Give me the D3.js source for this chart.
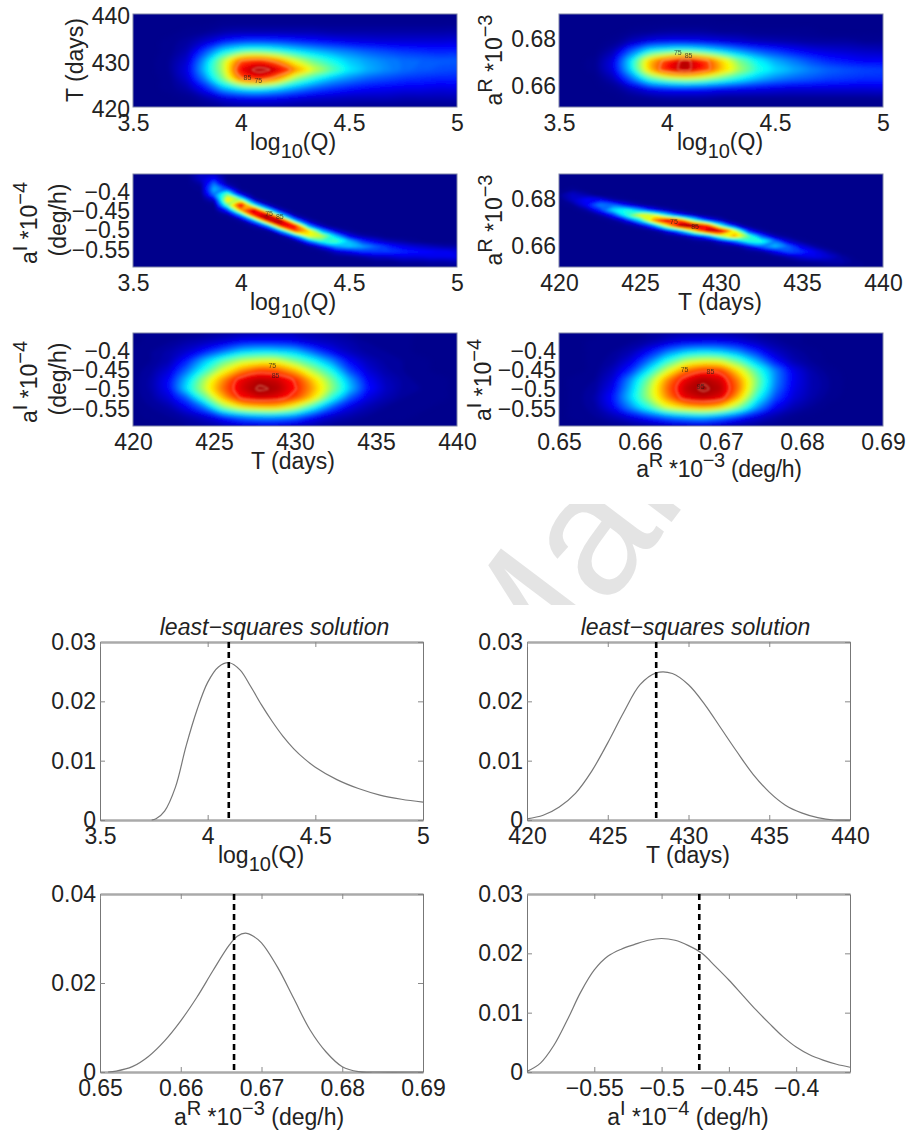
<!DOCTYPE html>
<html>
<head>
<meta charset="utf-8">
<script src="https://d3js.org/d3.v7.min.js"></script>
<style>
  body { margin: 0; background: #fff; }
  text { font-family: "Liberation Sans", Arial, sans-serif; fill: #222; }
</style>
</head>
<body>
<svg id="chart" width="907" height="1136"></svg>
<script>
// axis ranges and ticks
const qDomain = [3.5, 5];
const tDomain = [420, 440];
const arDomain = [0.65, 0.69];
const aiDomain = [-0.6, -0.36];
const qTicks = [3.5, 4, 4.5, 5];
const tTicks = [420, 425, 430, 435, 440];
const tTicksShort = [420, 430, 440];
const arTicks = [0.65, 0.66, 0.67, 0.68, 0.69];
const arTicksShort = [0.66, 0.68];
const aiTicks = [-0.55, -0.5, -0.45, -0.4];

// density grids, 0-100 on the jet scale, top row first
const gridTQ = [
  [0,0,0,0,0,0,0,0,0,0,0,0,0,0,0,0,0,0,0],
  [0,0,0,0,0,1,1,1,1,1,1,1,1,1,1,1,1,1,1],
  [0,0,0,1,2,4,5,5,5,5,5,4,4,4,4,4,4,4,4],
  [0,0,1,3,8,15,19,20,19,17,15,13,11,10,9,9,9,9,9],
  [0,0,1,5,20,36,45,47,43,37,32,28,25,22,20,18,17,16,16],
  [0,0,2,8,30,55,80,85,76,60,48,40,33,29,26,24,23,22,22],
  [0,0,2,10,33,56,90,98,93,76,60,48,37,31,27,24,22,21,20],
  [0,0,1,8,26,50,78,86,74,52,40,31,26,22,20,18,17,16,16],
  [0,0,1,4,14,30,38,40,35,28,22,18,15,13,12,11,11,10,10],
  [0,0,0,1,4,9,12,13,12,10,8,7,6,6,6,5,5,5,5],
  [0,0,0,0,1,2,3,3,3,2,2,2,2,1,1,1,1,1,1]
];
const gridArQ = [
  [0,0,0,0,0,0,0,0,0,0,0,0,0,0,0,0,0,0,0],
  [0,0,0,0,0,0,0,0,0,0,0,0,0,0,0,0,0,0,0],
  [0,0,0,0,1,2,3,3,3,2,2,1,1,1,1,0,0,0,0],
  [0,0,0,1,6,11,13,13,12,10,8,6,5,4,3,3,3,2,2],
  [0,0,0,5,22,38,44,46,42,35,28,22,18,14,11,9,8,7,6],
  [0,0,1,10,36,68,84,96,85,68,50,38,30,25,20,16,14,12,12],
  [0,0,1,10,35,68,88,96,86,70,55,42,35,30,26,23,21,20,19],
  [0,0,0,5,22,42,52,56,53,46,38,31,26,23,21,19,18,17,17],
  [0,0,0,1,6,12,15,16,15,13,12,11,10,9,9,9,9,9,9],
  [0,0,0,0,1,2,3,3,3,2,2,2,2,2,2,2,2,2,2],
  [0,0,0,0,0,0,0,0,0,0,0,0,0,0,0,0,0,0,0]
];
const gridAiQ = [
  [0,0,0,0,0,7,6,0,0,0,0,0,0,0,0,0,0,0,0,0,0,0,0,0,0],
  [0,0,0,0,0,7,14,1,0,0,0,0,0,0,0,0,0,0,0,0,0,0,0,0,0],
  [0,0,0,0,0,3,25,4,0,0,0,0,0,0,0,0,0,0,0,0,0,0,0,0,0],
  [0,0,0,0,0,1,31,20,1,0,0,0,0,0,0,0,0,0,0,0,0,0,0,0,0],
  [0,0,0,0,0,0,24,50,12,0,0,0,0,0,0,0,0,0,0,0,0,0,0,0,0],
  [0,0,0,0,0,0,8,66,50,6,0,0,0,0,0,0,0,0,0,0,0,0,0,0,0],
  [0,0,0,0,0,0,1,48,90,38,6,0,0,0,0,0,0,0,0,0,0,0,0,0,0],
  [0,0,0,0,0,0,0,17,72,94,40,6,0,0,0,0,0,0,0,0,0,0,0,0,0],
  [0,0,0,0,0,0,0,2,26,88,99,36,4,0,0,0,0,0,0,0,0,0,0,0,0],
  [0,0,0,0,0,0,0,0,3,30,92,97,30,5,0,0,0,0,0,0,0,0,0,0,0],
  [0,0,0,0,0,0,0,0,0,4,28,90,88,27,5,0,0,0,0,0,0,0,0,0,0],
  [0,0,0,0,0,0,0,0,0,0,2,30,82,68,30,9,2,0,0,0,0,0,0,0,0],
  [0,0,0,0,0,0,0,0,0,0,0,2,24,62,57,33,12,4,2,0,0,0,0,0,0],
  [0,0,0,0,0,0,0,0,0,0,0,0,2,22,42,46,32,18,10,5,3,1,0,0,0],
  [0,0,0,0,0,0,0,0,0,0,0,0,0,2,12,28,33,29,22,16,11,8,6,4,3],
  [0,0,0,0,0,0,0,0,0,0,0,0,0,0,1,7,12,18,19,19,17,15,13,12,10],
  [0,0,0,0,0,0,0,0,0,0,0,0,0,0,0,1,2,4,7,8,10,10,11,11,11],
  [0,0,0,0,0,0,0,0,0,0,0,0,0,0,0,0,0,0,1,1,3,3,4,4,5],
  [0,0,0,0,0,0,0,0,0,0,0,0,0,0,0,0,0,0,0,0,0,0,1,1,1]
];
const gridArT = [
  [0,0,0,0,0,0,0,0,0,0,0,0,0,0,0,0,0,0,0,0,0,0,0,0,0],
  [0,0,0,0,0,0,0,0,0,0,0,0,0,0,0,0,0,0,0,0,0,0,0,0,0],
  [0,0,0,0,0,0,0,0,0,0,0,0,0,0,0,0,0,0,0,0,0,0,0,0,0],
  [0,2,0,0,0,0,0,0,0,0,0,0,0,0,0,0,0,0,0,0,0,0,0,0,0],
  [2,7,4,0,0,0,0,0,0,0,0,0,0,0,0,0,0,0,0,0,0,0,0,0,0],
  [0,7,13,12,4,1,0,0,0,0,0,0,0,0,0,0,0,0,0,0,0,0,0,0,0],
  [0,2,12,26,23,12,4,1,0,0,0,0,0,0,0,0,0,0,0,0,0,0,0,0,0],
  [0,0,3,16,35,41,29,14,5,1,0,0,0,0,0,0,0,0,0,0,0,0,0,0,0],
  [0,0,0,3,15,41,62,60,38,17,6,1,0,0,0,0,0,0,0,0,0,0,0,0,0],
  [0,0,0,0,2,11,35,74,94,80,46,19,6,0,0,0,0,0,0,0,0,0,0,0,0],
  [0,0,0,0,0,1,6,24,62,98,100,86,42,12,1,0,0,0,0,0,0,0,0,0,0],
  [0,0,0,0,0,0,0,2,11,31,64,94,94,60,16,3,0,0,0,0,0,0,0,0,0],
  [0,0,0,0,0,0,0,0,1,3,11,26,55,72,48,21,5,1,0,0,0,0,0,0,0],
  [0,0,0,0,0,0,0,0,0,0,1,2,9,23,41,42,24,8,2,0,0,0,0,0,0],
  [0,0,0,0,0,0,0,0,0,0,0,0,1,2,10,23,32,23,10,3,0,0,0,0,0],
  [0,0,0,0,0,0,0,0,0,0,0,0,0,0,1,3,12,21,18,11,4,0,0,0,0],
  [0,0,0,0,0,0,0,0,0,0,0,0,0,0,0,0,1,5,9,11,8,3,0,0,0],
  [0,0,0,0,0,0,0,0,0,0,0,0,0,0,0,0,0,0,2,3,4,4,1,0,0],
  [0,0,0,0,0,0,0,0,0,0,0,0,0,0,0,0,0,0,0,0,1,1,1,0,0]
];
const gridAiT = [
  [0,1,1,1,2,3,4,5,5,5,4,3,2,1,1,1,0,0,0],
  [0,1,2,4,6,9,13,14,14,12,8,6,4,2,1,1,0,0,0],
  [1,2,4,8,15,24,33,36,35,32,22,12,6,3,2,1,0,0,0],
  [1,2,5,16,32,46,56,60,60,50,40,27,13,6,3,2,1,0,0],
  [1,3,9,24,42,60,74,82,80,70,54,40,20,9,4,2,1,0,0],
  [1,4,13,33,55,74,90,95,93,85,68,50,30,13,6,3,1,1,0],
  [1,4,13,36,58,78,92,98,96,87,72,53,33,15,7,3,2,1,0],
  [1,3,9,22,46,70,87,92,90,82,66,42,22,10,5,2,1,1,0],
  [0,2,4,12,25,50,63,68,68,58,40,22,10,5,2,1,1,0,0],
  [0,1,2,4,8,16,24,28,28,24,14,7,4,2,1,1,0,0,0],
  [0,0,1,2,3,5,7,8,8,6,4,2,1,1,0,0,0,0,0]
];
const gridAiAr = [
  [0,0,0,1,1,2,3,4,4,4,3,2,1,1,0,0,0,0,0],
  [0,0,1,1,2,4,8,11,12,12,10,6,3,1,0,0,0,0,0],
  [0,0,1,2,5,13,24,32,35,33,26,16,7,3,1,0,0,0,0],
  [0,0,1,3,10,24,41,55,60,58,46,30,14,5,2,0,0,0,0],
  [0,0,1,6,17,37,58,76,84,82,64,44,26,11,4,1,0,0,0],
  [0,1,2,9,28,50,74,90,96,92,74,50,27,12,5,2,0,0,0],
  [0,1,3,12,32,55,78,94,98,95,76,48,25,11,5,2,0,0,0],
  [0,1,4,15,34,54,74,90,94,90,68,40,20,9,4,1,0,0,0],
  [0,1,3,12,27,42,60,68,72,66,50,28,12,5,2,0,0,0,0],
  [0,1,2,5,10,17,24,29,31,26,17,9,4,1,0,0,0,0,0],
  [0,0,0,1,2,3,5,6,7,5,3,2,1,0,0,0,0,0,0]
];

// little contour labels left on the panels: [x value, y value, text]
const labelsTQ = [[4.03, 425.8, "85"], [4.08, 425.2, "75"]];
const labelsArQ = [[4.05, 0.6722, "75"], [4.1, 0.6712, "85"]];
const labelsAiQ = [[4.13, -0.468, "75"], [4.18, -0.476, "85"]];
const labelsArT = [[427.1, 0.6685, "75"], [428.4, 0.6662, "85"]];
const labelsAiT = [[428.6, -0.451, "75"], [428.8, -0.475, "85"]];
const labelsAiAr = [[0.6655, -0.4615, "75"], [0.6687, -0.465, "85"], [0.6675, -0.505, "95"]];

// marginal curves: x values and density
const qVals = [3.74,3.76,3.8,3.85,3.9,3.95,4,4.05,4.1,4.15,4.2,4.25,4.3,4.35,4.4,4.45,4.5,4.6,4.7,4.8,4.9,5];
const qDensity = [0,0.0002,0.0015,0.0055,0.0125,0.0185,0.0232,0.0258,0.0265,0.0253,0.0225,0.0194,0.0166,0.0141,0.012,0.0103,0.0089,0.0068,0.0053,0.0042,0.0035,0.003];
const tVals = [420,421,422,423,424,425,426,427,428,429,430,431,432,433,434,435,436,437,438,439,440];
const tDensity = [0.0002,0.0008,0.0022,0.0045,0.0082,0.013,0.0182,0.0228,0.0248,0.0247,0.0228,0.0195,0.0155,0.0115,0.0077,0.0047,0.0025,0.0012,0.0004,0,0];
const arVals = [0.651,0.652,0.654,0.656,0.658,0.66,0.662,0.664,0.666,0.667,0.668,0.669,0.67,0.672,0.674,0.676,0.678,0.68,0.682,0.684,0.69];
const arDensity = [0,0.0002,0.0012,0.0035,0.007,0.0115,0.0168,0.0228,0.0285,0.0305,0.0312,0.0305,0.029,0.0235,0.0165,0.0095,0.0045,0.0012,0.0001,0,0];
const aiVals = [-0.6,-0.59,-0.58,-0.57,-0.56,-0.55,-0.54,-0.53,-0.52,-0.51,-0.5,-0.49,-0.48,-0.47,-0.46,-0.45,-0.44,-0.43,-0.42,-0.41,-0.4,-0.39,-0.38,-0.37,-0.36];
const aiDensity = [0.0001,0.0015,0.0045,0.0088,0.0135,0.0172,0.0195,0.0207,0.0215,0.0222,0.0225,0.0222,0.0213,0.02,0.0178,0.0155,0.013,0.0105,0.0082,0.006,0.0042,0.0029,0.002,0.0013,0.0008];

// least-squares solution of each parameter
const lsQ = 4.098;
const lsT = 428;
const lsAr = 0.6666;
const lsAi = -0.472;

const title = "least\u2212squares solution";

const svg = d3.select("#chart");
const defs = svg.append("defs");

const FONT = 23;
const fmt = d => String(d).replace("-", "\u2212");
const fmt2 = d => d === 0 ? "0" : d3.format(".2f")(d);

// MATLAB jet, background pulled to the picture's dark blue
const jet = d3.scaleLinear()
  .domain([0, 12.5, 37.5, 62.5, 87.5, 100])
  .range(["#00008c", "#0000ff", "#00ffff", "#ffff00", "#ff0000", "#800000"])
  .clamp(true);

defs.append("filter").attr("id", "soft")
  .attr("x", "-5%").attr("y", "-10%").attr("width", "110%").attr("height", "120%")
  .append("feGaussianBlur").attr("stdDeviation", 2);
defs.append("filter").attr("id", "softThin")
  .attr("x", "-5%").attr("y", "-10%").attr("width", "110%").attr("height", "120%")
  .append("feGaussianBlur").attr("stdDeviation", 1);

// text with super/subscripts, parts are [string, "sup"|"sub"|undefined]
function richText(x, y, parts, rotate) {
  const t = svg.append("text")
    .attr("text-anchor", "middle")
    .style("font-size", FONT + "px")
    .attr("transform", `translate(${x},${y})` + (rotate ? " rotate(-90)" : ""));
  let shift = 0;
  parts.forEach(([s, kind]) => {
    const target = kind === "sup" ? -10 : kind === "sub" ? 8 : 0;
    t.append("tspan")
      .attr("dy", target - shift)
      .style("font-size", kind ? "20px" : FONT + "px")
      .attr("xml:space", "preserve")
      .text(s);
    shift = target;
  });
  return t;
}

const logQ = [["log"], ["10", "sub"], ["(Q)"]];
const days = [["T (days)"]];
const arLabel = [["a"], ["R", "sup"], [" *10"], ["\u22123", "sup"]];
const aiLabel = [["a"], ["I", "sup"], [" *10"], ["\u22124", "sup"]];
const arFull = arLabel.concat([[" (deg/h)"]]);
const aiFull = aiLabel.concat([[" (deg/h)"]]);

const heatW = 324, heatH = 93;
const heatPanels = [
  {id: "p1", left: 133, top: 14, grid: gridTQ, xd: qDomain, yd: [420, 440], xt: qTicks, yt: tTicksShort, labels: labelsTQ, lines: [80, 95], blur: "soft"},
  {id: "p2", left: 559, top: 14, grid: gridArQ, xd: qDomain, yd: arDomain, xt: qTicks, yt: arTicksShort, labels: labelsArQ, lines: [80, 93], blur: "soft"},
  {id: "p3", left: 133, top: 174, grid: gridAiQ, xd: qDomain, yd: aiDomain, xt: qTicks, yt: aiTicks, labels: labelsAiQ, lines: [], blur: "softThin"},
  {id: "p4", left: 559, top: 174, grid: gridArT, xd: tDomain, yd: arDomain, xt: tTicks, yt: arTicksShort, labels: labelsArT, lines: [], blur: "softThin"},
  {id: "p5", left: 133, top: 333, grid: gridAiT, xd: tDomain, yd: aiDomain, xt: tTicks, yt: aiTicks, labels: labelsAiT, lines: [86, 97], blur: "soft"},
  {id: "p6", left: 559, top: 333, grid: gridAiAr, xd: arDomain, yd: aiDomain, xt: arTicks, yt: aiTicks, labels: labelsAiAr, lines: [86, 97], blur: "soft"}
];

heatPanels.forEach(p => {
  const g = svg.append("g").attr("transform", `translate(${p.left},${p.top})`);
  const x = d3.scaleLinear().domain(p.xd).range([0, heatW]);
  const y = d3.scaleLinear().domain(p.yd).range([heatH, 0]);

  defs.append("clipPath").attr("id", "clip-" + p.id)
    .append("rect").attr("width", heatW).attr("height", heatH);

  const plot = g.append("g").attr("clip-path", `url(#clip-${p.id})`);
  plot.append("rect").attr("width", heatW).attr("height", heatH).attr("fill", jet(0));

  // grid index -> pixels, d3.contours puts samples at cell centres
  const rows = p.grid.length, cols = p.grid[0].length;
  const gx = d3.scaleLinear().domain([0.5, cols - 0.5]).range([0, heatW]);
  const gy = d3.scaleLinear().domain([0.5, rows - 0.5]).range([0, heatH]);
  const ring = d3.line().curve(d3.curveCatmullRomClosed.alpha(0.5))
    .x(d => gx(d[0])).y(d => gy(d[1]));
  // rounded outlines so the bands look like the smooth contours of the original
  const path = c => c.coordinates
    .map(poly => poly.map(r => ring(r.slice(0, -1))).join(""))
    .join("");
  const contours = d3.contours().size([cols, rows]);
  const values = p.grid.flat();

  plot.append("g").attr("filter", `url(#${p.blur})`)
    .selectAll("path")
    .data(contours.thresholds(d3.range(0.5, 100, 1.5))(values))
    .enter().append("path")
    .attr("d", path)
    .attr("fill-rule", "evenodd")
    .attr("fill", d => jet(d.value));

  plot.append("g").attr("filter", "url(#softThin)")
    .selectAll("path")
    .data(contours.thresholds(p.lines)(values))
    .enter().append("path")
    .attr("d", path)
    .attr("fill", "none")
    .attr("stroke", "#ffd0a8")
    .attr("stroke-width", 1.1)
    .attr("opacity", 0.55);

  plot.selectAll("text.lab")
    .data(p.labels)
    .enter().append("text")
    .attr("class", "lab")
    .attr("x", d => x(d[0]))
    .attr("y", d => y(d[1]))
    .attr("text-anchor", "middle")
    .style("font-size", "7px")
    .style("fill", "#1a1a1a")
    .style("opacity", 0.75)
    .text(d => d[2]);

  g.append("rect").attr("width", heatW).attr("height", heatH)
    .attr("fill", "none").attr("stroke", "#7f84a8").attr("stroke-width", 1);

  const xAxis = g.append("g").attr("transform", `translate(0,${heatH})`)
    .call(d3.axisBottom(x).tickValues(p.xt).tickFormat(fmt).tickSize(0).tickPadding(8));
  const yAxis = g.append("g")
    .call(d3.axisLeft(y).tickValues(p.yt).tickFormat(fmt).tickSize(0).tickPadding(3));
  [xAxis, yAxis].forEach(a => {
    a.select(".domain").remove();
    a.attr("font-family", null).attr("font-size", null);
    a.selectAll("text").style("font-size", FONT + "px");
  });
  yAxis.selectAll("text").attr("dy", "0.42em");
});

// heatmap axis labels
richText(293, 150, logQ);
richText(720, 150, logQ);
richText(293, 310, logQ);
richText(720, 310, days);
richText(293, 469, days);
richText(719, 477, arFull).style("letter-spacing", "-0.3px");
richText(83, 60, days, true);
richText(502, 60, arLabel, true);
richText(37, 223, aiLabel, true);
richText(66, 220, [["(deg/h)"]], true);
richText(502, 220, arLabel, true);
richText(37, 382, aiLabel, true);
richText(66, 379, [["(deg/h)"]], true);
richText(491, 380, aiLabel, true);

// watermark behind the lower plots, only a strip of it shows
defs.append("clipPath").attr("id", "clip-mark")
  .append("rect").attr("x", 440).attr("y", 504).attr("width", 300).attr("height", 101);
svg.append("g").attr("clip-path", "url(#clip-mark)")
  .append("text")
  .attr("transform", "translate(518,726) rotate(-53)")
  .style("font-size", "175px")
  .style("fill", "#e4e4e4")
  .text("Man");

// marginal plots
const lineW = 323, lineH = 178;
const linePanels = [
  {left: 100, top: 642, xs: qVals, ys: qDensity, xd: qDomain, yMax: 0.03, xt: qTicks, yt: [0, 0.01, 0.02, 0.03], ls: lsQ, title: true},
  {left: 527, top: 642, xs: tVals, ys: tDensity, xd: tDomain, yMax: 0.03, xt: tTicks, yt: [0, 0.01, 0.02, 0.03], ls: lsT, title: true},
  {left: 100, top: 894, xs: arVals, ys: arDensity, xd: arDomain, yMax: 0.04, xt: arTicks, yt: [0, 0.02, 0.04], ls: lsAr},
  {left: 527, top: 894, xs: aiVals, ys: aiDensity, xd: aiDomain, yMax: 0.03, xt: aiTicks, yt: [0, 0.01, 0.02, 0.03], ls: lsAi}
];

linePanels.forEach(p => {
  const g = svg.append("g").attr("transform", `translate(${p.left},${p.top})`);
  const x = d3.scaleLinear().domain(p.xd).range([0, lineW]);
  const y = d3.scaleLinear().domain([0, p.yMax]).range([lineH, 0]);

  // box and inward ticks on all four sides
  const axes = [
    g.append("g").attr("transform", `translate(0,${lineH})`).call(d3.axisBottom(x).tickValues(p.xt).tickFormat(fmt).tickSizeInner(-5).tickSizeOuter(0).tickPadding(8)),
    g.append("g").call(d3.axisLeft(y).tickValues(p.yt).tickFormat(fmt2).tickSizeInner(-5).tickSizeOuter(0).tickPadding(4)),
    g.append("g").call(d3.axisTop(x).tickValues(p.xt).tickFormat("").tickSizeInner(-5).tickSizeOuter(0)),
    g.append("g").attr("transform", `translate(${lineW},0)`).call(d3.axisRight(y).tickValues(p.yt).tickFormat("").tickSizeInner(-5).tickSizeOuter(0))
  ];
  axes.forEach(a => {
    a.attr("font-family", null).attr("font-size", null);
    a.selectAll("line").attr("stroke", "#888");
    a.selectAll("text").style("font-size", FONT + "px");
  });
  axes[0].select(".domain").attr("stroke", "#aaa").attr("stroke-width", 2.5);
  axes[1].select(".domain").attr("stroke", "#777").attr("stroke-width", 1);
  axes[2].select(".domain").attr("stroke", "#aaa").attr("stroke-width", 2.5);
  axes[3].select(".domain").attr("stroke", "#777").attr("stroke-width", 1);

  const line = d3.line().curve(d3.curveCatmullRom.alpha(0.5))
    .x(d => x(d[0])).y(d => y(d[1]));
  g.append("path")
    .attr("d", line(d3.zip(p.xs, p.ys)))
    .attr("fill", "none")
    .attr("stroke", "#777")
    .attr("stroke-width", 1.2);

  g.append("line")
    .attr("x1", x(p.ls)).attr("x2", x(p.ls))
    .attr("y1", 0).attr("y2", lineH)
    .attr("stroke", "#000")
    .attr("stroke-width", 2.6)
    .attr("stroke-dasharray", "6,4");

  if (p.title) {
    g.append("text")
      .attr("x", lineW / 2 + (p.left === 100 ? 13 : 7))
      .attr("y", -7)
      .attr("text-anchor", "middle")
      .style("font-size", FONT + "px")
      .style("font-style", "italic")
      .text(title);
  }
});

richText(261, 863, logQ);
richText(688, 863, days);
richText(259, 1125, arFull);
richText(688, 1125, aiFull);
</script>
</body>
</html>
